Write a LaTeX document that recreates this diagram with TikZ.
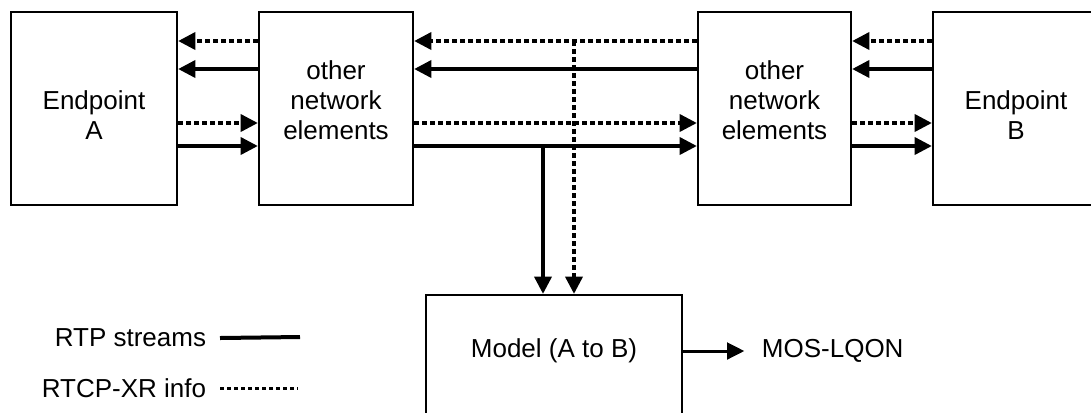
\documentclass[tikz,border=0pt]{standalone}
\usepackage{fontspec}
\setmainfont{Liberation Sans}
\usetikzlibrary{arrows.meta}

\begin{document}
\begin{tikzpicture}[x=0.75pt, y=-0.75pt,
    every node/.style={font=\fontsize{19.5}{22.5}\selectfont},
    box/.style={draw, line width=1.5pt, minimum width=#1, minimum height=144.75pt, inner sep=0pt},
    rtp/.style={line width=3.5pt, -{Triangle[length=13pt, width=12.5pt]}},
    xr/.style={line width=3.5pt, dash pattern=on 3.75pt off 2.25pt, -{Triangle[length=13pt, width=12.5pt]}}]
      \clip (0,0) rectangle (1091,412);

      % Nodes
      \node[box=124.5pt, label={[align=center, yshift=-5pt]center:Endpoint\\A}] at (94,108.5) (epa) {};
      \node[box=115.5pt, label={[align=center, yshift=6pt]center:other\\network\\elements}] at (336,108.5) (nea) {};
      \node[box=114.75pt, label={[align=center, yshift=6pt]center:other\\network\\elements}] at (774.5,108.5) (neb) {};
      \node[box=124.5pt, label={[align=center, yshift=-5pt]center:Endpoint\\B}] at (1016,108.5) (epb) {};
      \node[draw, line width=1.5pt, minimum width=192pt, minimum height=93.75pt, inner sep=0pt,
            label={[yshift=5pt]center:Model (A to B)}] at (554,357.5) (model) {};
      \node[anchor=west, inner sep=2pt] at (759,351) (mos) {MOS-LQON};

      % Legend
      \node[anchor=east, inner sep=2pt] at (209,338) (lrtp) {RTP streams};
      \node[anchor=east, inner sep=2pt] at (209,388) (lxr) {RTCP-XR info};
      \coordinate (lrtpend) at (300,337);
      \coordinate (lxrend) at (298,388);
      \draw[line width=3pt] (lrtp.east -| 220,0) -- (lrtpend);
      \draw[line width=2.25pt, dash pattern=on 3pt off 2.25pt] (lxr.east -| 220,0) -- (lxrend);

      % Rows
      \coordinate (r1) at (0,41);
      \coordinate (r2) at (0,69);
      \coordinate (r3) at (0,123);
      \coordinate (r4) at (0,146);

      \draw[xr] (nea.west |- r1) -- (epa.east |- r1);
      \draw[xr] (neb.west |- r1) -- (nea.east |- r1);
      \draw[xr] (epb.west |- r1) -- (neb.east |- r1);
      \draw[rtp] (nea.west |- r2) -- (epa.east |- r2);
      \draw[rtp] (neb.west |- r2) -- (nea.east |- r2);
      \draw[rtp] (epb.west |- r2) -- (neb.east |- r2);

      \draw[xr] (epa.east |- r3) -- (nea.west |- r3);
      \draw[xr] (nea.east |- r3) -- (neb.west |- r3);
      \draw[xr] (neb.east |- r3) -- (epb.west |- r3);
      \draw[rtp] (epa.east |- r4) -- (nea.west |- r4);
      \draw[rtp] (nea.east |- r4) -- (neb.west |- r4);
      \draw[rtp] (neb.east |- r4) -- (epb.west |- r4);

      % Taps to the model
      \coordinate (tap1) at (543,146);
      \coordinate (tap2) at (574,41);
      \draw[rtp] (tap1) -- (tap1 |- model.north);
      \draw[xr] (tap2) -- (tap2 |- model.north);

      \draw[line width=2.25pt, -{Triangle[length=13pt, width=12.5pt]}] (model.east |- mos) -- ([xshift=-11pt]mos.west);
    \end{tikzpicture}
\end{document}
